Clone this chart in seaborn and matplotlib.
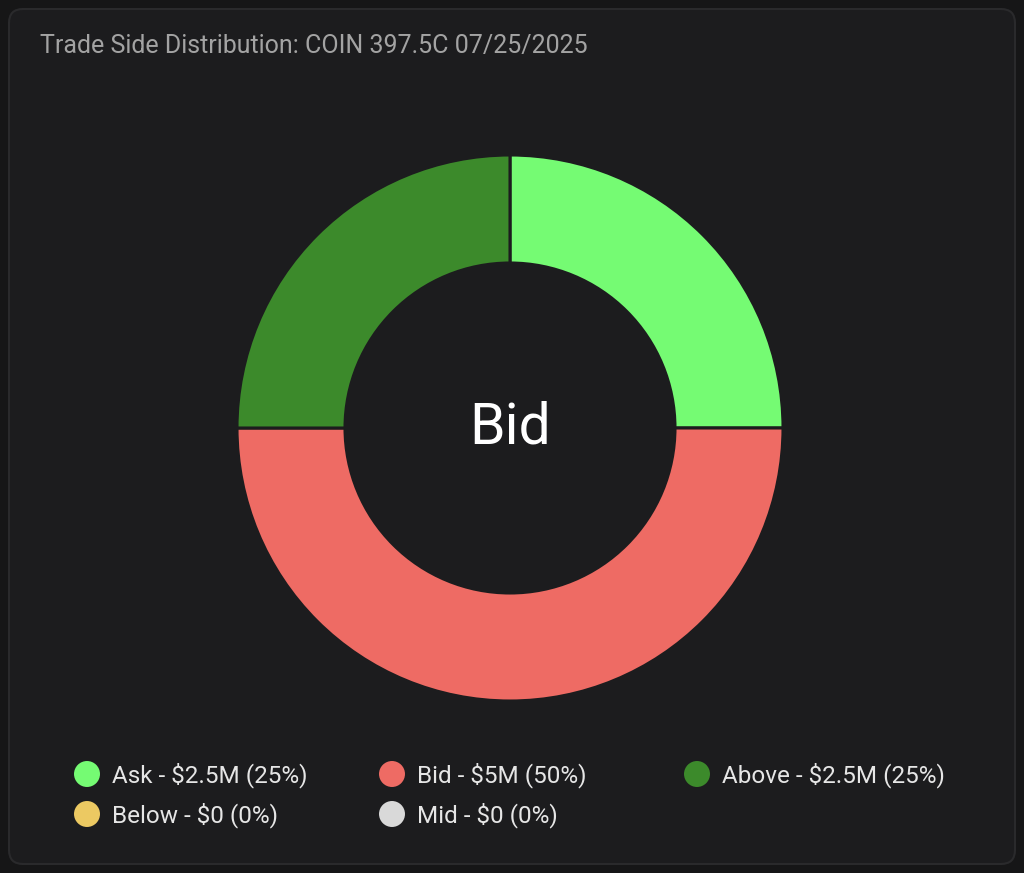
import matplotlib
matplotlib.use("Agg")
import matplotlib.pyplot as plt
import seaborn as sns
from matplotlib.patches import FancyBboxPatch

# ---- data ----
categories = ["Ask", "Bid", "Above", "Below", "Mid"]
amounts = [2.5, 5.0, 2.5, 0.0, 0.0]          # $M
amount_labels = ["$2.5M", "$5M", "$2.5M", "$0", "$0"]
percents = [25, 50, 25, 0, 0]
colors = ["#75fb73", "#ee6b64", "#3c8a2b", "#ecc962", "#d9d9d9"]
title = "Trade Side Distribution: COIN 397.5C 07/25/2025"
center_label = "Bid"

sns.set_theme(style="dark")
plt.rcParams["font.family"] = ["Roboto", "DejaVu Sans"]

BG = "#161617"
CARD = "#1c1c1e"
W, H = 1024, 873
fig = plt.figure(figsize=(W / 100, H / 100), dpi=100, facecolor=BG)

# card background
card_ax = fig.add_axes([0, 0, 1, 1])
card_ax.set_xlim(0, W)
card_ax.set_ylim(H, 0)
card_ax.axis("off")
card_ax.add_patch(FancyBboxPatch((9, 9), W - 18, H - 18,
                                 boxstyle="round,pad=0,rounding_size=14",
                                 facecolor=CARD, edgecolor="#2a2a2c", linewidth=1.5))

card_ax.text(40, 46, title, color="#a3a3a3", fontsize=18, va="center", ha="left")

# donut
cx, cy, R = 510, 428, 273
ax = fig.add_axes([(cx - R) / W, 1 - (cy + R) / H, 2 * R / W, 2 * R / H])
ax.set_facecolor("none")
vals = [v for v in amounts if v > 0]
cols = [c for v, c in zip(amounts, colors) if v > 0]
wedges, _ = ax.pie(vals, colors=cols, startangle=90, counterclock=False, radius=1,
                   wedgeprops=dict(width=(273 - 165) / 273, edgecolor=CARD,
                                   linewidth=2.2, joinstyle="round"))
ax.set_xlim(-1.0, 1.0)
ax.set_ylim(-1.0, 1.0)
ax.set_aspect("equal")
ax.axis("off")
ax.text(0, 0, center_label, color="white", fontsize=41, ha="center", va="center")

# legend
col_x = [87, 392, 697]
row_y = [774, 814]
for i, (cat, amt, pct, col) in enumerate(zip(categories, amount_labels, percents, colors)):
    x = col_x[i % 3]
    y = row_y[i // 3]
    card_ax.scatter([x], [y], s=350, color=col, edgecolor="none", zorder=3)
    card_ax.text(x + 25, y + 1, f"{cat} - {amt} ({pct}%)", color="#e6e6e6",
                 fontsize=17.5, va="center", ha="left")

fig.savefig("out.png", dpi=100, facecolor=BG)
